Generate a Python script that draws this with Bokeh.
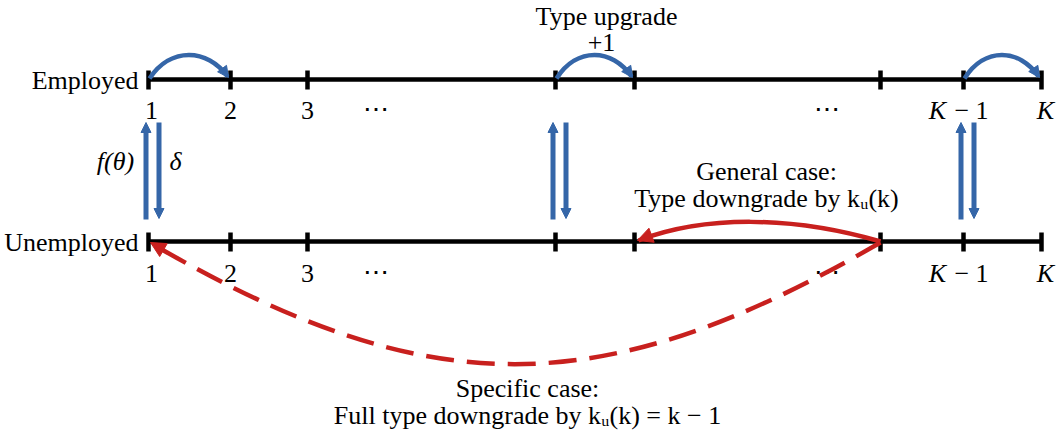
import math
from bokeh.plotting import figure
from bokeh.models import Range1d, Arrow, NormalHead
from bokeh.core.properties import value
from bokeh.embed import file_html
from bokeh.resources import INLINE

# ---- diagram content ----
row_names = ["Employed", "Unemployed"]
row_y = [79, 241]
tick_x = [148, 230, 307, 555, 634, 880, 963, 1041]
num_labels = ["1", "2", "3"]
num_label_x = [151, 230, 307]
dots_x = [375, 826]
upgrade_from = [0, 3, 6]          # tick index of each +1 upgrade arc (employed row)
flow_ticks = [0, 3, 6]            # ticks with f(theta) / delta arrows
general_from, general_to = 5, 4   # general downgrade arc (unemployed row)
specific_from, specific_to = 5, 0 # full downgrade arc (unemployed row)

BLUE = "#3566A8"
RED = "#C8201E"
FONT = value("Liberation Serif")
FS = "26px"
TDY = -8  # text baseline correction

W, H = 1060, 435
p = figure(width=W, height=H, output_backend="svg", toolbar_location=None,
           x_range=Range1d(0, W), y_range=Range1d(H, 0),
           min_border=0, x_axis_location=None, y_axis_location=None)
p.grid.visible = False
p.outline_line_color = None
p.background_fill_color = "white"
p.border_fill_color = "white"


def head(x0, y0, x1, y1, color, size):
    d = math.hypot(x1 - x0, y1 - y0)
    ux, uy = (x1 - x0) / d, (y1 - y0) / d
    p.add_layout(Arrow(end=NormalHead(size=size, fill_color=color, line_color=color, line_width=1),
                       x_start=x1 - ux * 3, y_start=y1 - uy * 3, x_end=x1, y_end=y1,
                       line_color=color, line_width=1, line_alpha=0))


def txt(x, y, s, align="center", italic=False, size=FS):
    p.text(x=[x], y=[y + TDY], text=[s], text_font=FONT, text_font_size=size,
           text_align=align, text_baseline="alphabetic", text_color="black",
           text_font_style="italic" if italic else "normal")


# main lines and ticks
for name, y in zip(row_names, row_y):
    p.line([tick_x[0], tick_x[-1]], [y, y], line_color="black", line_width=4.5)
    p.segment(x0=tick_x, y0=[y - 9] * len(tick_x), x1=tick_x, y1=[y + 10] * len(tick_x),
              line_color="black", line_width=4.5)
    txt(tick_x[0] - 10, y + 9, name, align="right")
    base = y + 39 if y == row_y[0] else y + 40
    for lx, lab in zip(num_label_x, num_labels):
        txt(lx, base, lab)
    for dx in dots_x:
        txt(dx, base - 1, "⋯")
    txt(937, base, "K", italic=True)
    txt(971, base, "− 1")
    txt(1045, base, "K", italic=True)

# blue upgrade arcs on employed row
ye = row_y[0]
for i in upgrade_from:
    xa, xb = tick_x[i], tick_x[i + 1]
    L = xb - xa
    sx, sy = xa + 1, ye - 1
    ex, ey = xb - 3, ye - 3
    c0x, c0y = xa + 0.27 * L, ye - 33
    c1x, c1y = xa + 0.72 * L, ye - 31
    p.bezier(x0=[sx], y0=[sy], x1=[ex], y1=[ey], cx0=[c0x], cy0=[c0y], cx1=[c1x], cy1=[c1y],
             line_color=BLUE, line_width=4.5)
    head(c1x, c1y, ex + 1, ey + 1, BLUE, 11)

# vertical flow arrows
yu = row_y[1]
for i in flow_ticks:
    x = tick_x[i]
    up_x, dn_x = x - 2.5, x + 10.5
    p.add_layout(Arrow(end=NormalHead(size=10, fill_color=BLUE, line_color=BLUE, line_width=1),
                       x_start=up_x, y_start=yu - 22, x_end=up_x, y_end=ye + 43,
                       line_color=BLUE, line_width=5))
    p.add_layout(Arrow(end=NormalHead(size=10, fill_color=BLUE, line_color=BLUE, line_width=1),
                       x_start=dn_x, y_start=ye + 43, x_end=dn_x, y_end=yu - 23,
                       line_color=BLUE, line_width=5))

txt(115, 169, "f(θ)", italic=True)
txt(175, 169, "δ", italic=True)

# general case: red solid arc
xa, xb = tick_x[general_from], tick_x[general_to]
p.bezier(x0=[xa], y0=[yu], x1=[xb + 4], y1=[yu - 1], cx0=[xa - 90], cy0=[yu - 26],
         cx1=[xb + 70], cy1=[yu - 26], line_color=RED, line_width=4.5)
head(xb + 70, yu - 26, xb + 3, yu - 1, RED, 15)

# specific case: red dashed arc to type 1
xa, xb = tick_x[specific_from], tick_x[specific_to]
p.bezier(x0=[xa], y0=[yu + 1], x1=[xb + 3], y1=[yu + 2], cx0=[xa - 280], cy0=[yu + 163],
         cx1=[xb + 280], cy1=[yu + 163], line_color=RED, line_width=4.5, line_dash="28 13")
head(xb + 280, yu + 163, xb + 2, yu + 1, RED, 15)

# annotations
txt(606, 24, "Type upgrade")
txt(601, 50, "+1")
txt(766, 179, "General case:")
txt(766, 206, "Type downgrade by kᵤ(k)")
txt(527, 396, "Specific case:")
txt(527, 423, "Full type downgrade by kᵤ(k) = k − 1")

open("out.html", "w").write(file_html(p, INLINE))
